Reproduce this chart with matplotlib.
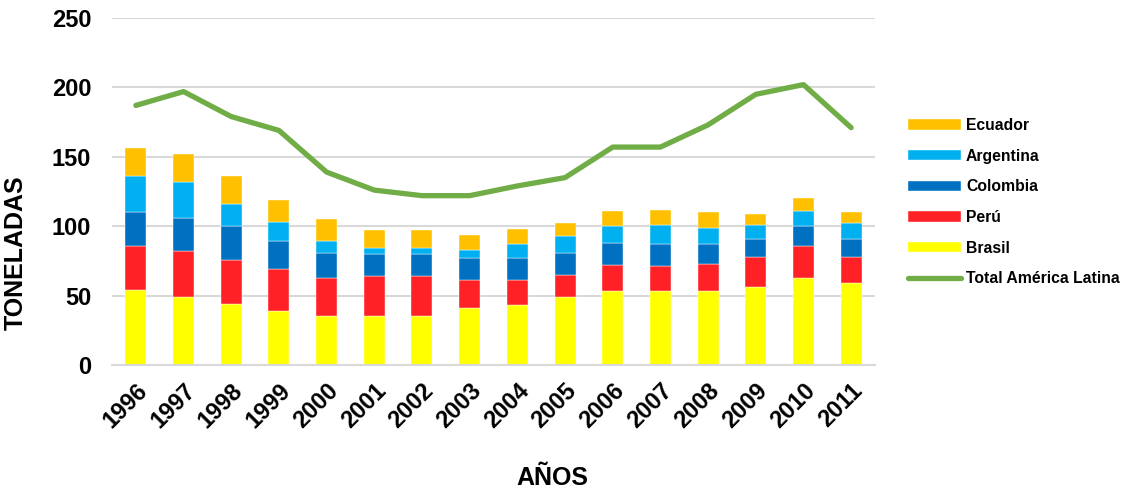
import matplotlib
matplotlib.use("Agg")
import matplotlib.pyplot as plt
import numpy as np

plt.rcParams['font.family'] = ['Liberation Sans', 'DejaVu Sans']
plt.rcParams['font.weight'] = 'bold'

years = ['1996', '1997', '1998', '1999', '2000', '2001', '2002', '2003',
         '2004', '2005', '2006', '2007', '2008', '2009', '2010', '2011']
brasil = [54, 49, 44, 39, 35, 35, 35, 41, 43, 49, 53, 53, 53, 56, 63, 59]
peru = [32, 33, 32, 30, 28, 29, 29, 20, 18, 16, 19, 18, 20, 22, 23, 19]
colombia = [24, 24, 24, 20, 18, 16, 16, 16, 16, 16, 16, 16, 14, 13, 14, 13]
argentina = [26, 26, 16, 14, 8, 4, 4, 6, 10, 12, 12, 14, 12, 10, 11, 11]
ecuador = [20, 20, 20, 16, 16, 13, 13, 11, 11, 9, 11, 11, 11, 8, 9, 8]
total = [187, 197, 179, 169, 139, 126, 122, 122, 129, 135, 157, 157, 173, 195, 202, 171]

series = [('Brasil', brasil, '#FFFF00'),
          ('Perú', peru, '#FF2125'),
          ('Colombia', colombia, '#0070C0'),
          ('Argentina', argentina, '#00B0F0'),
          ('Ecuador', ecuador, '#FFC000')]

fig = plt.figure(figsize=(11.27, 4.92), dpi=100)
ax = fig.add_axes([112 / 1127, 1 - 365 / 492, (875 - 112) / 1127, (365 - 18) / 492])

x = np.arange(len(years))
bottom = np.zeros(len(years))
handles = {}
for name, vals, color in series:
    b = ax.bar(x, vals, width=0.44, bottom=bottom, color=color,
               edgecolor='white', linewidth=0.3, label=name, zorder=2)
    handles[name] = b
    bottom += np.array(vals)

line, = ax.plot(x, total, color='#70AD47', linewidth=3.8, solid_capstyle='round',
                solid_joinstyle='round', label='Total América Latina', zorder=3)

ax.set_xlim(-0.5, len(years) - 0.5)
ax.set_ylim(0, 250)
ax.set_yticks(range(0, 251, 50))
ax.yaxis.grid(True, color='#D9D9D9', linewidth=1.5, zorder=0)
ax.set_axisbelow(True)
for s in ['top', 'right', 'left']:
    ax.spines[s].set_visible(False)
ax.spines['bottom'].set_color('#D9D9D9')
ax.spines['bottom'].set_linewidth(1.5)
ax.tick_params(axis='both', length=0, labelsize=17)
ax.tick_params(axis='y', pad=15)
ax.set_xticks(x)
ax.set_xticklabels(years, rotation=45, ha='right', va='top', rotation_mode='anchor')
ax.tick_params(axis='x', pad=10)
for lab in ax.get_xticklabels() + ax.get_yticklabels():
    lab.set_fontweight('bold')

fig.text(16 / 1127, 1 - 253 / 492, 'TONELADAS', rotation=90, ha='center', va='center',
         fontsize=18, fontweight='bold')
fig.text(552 / 1127, 1 - 478 / 492, 'AÑOS', ha='center', va='center',
         fontsize=18, fontweight='bold')

order = ['Ecuador', 'Argentina', 'Colombia', 'Perú', 'Brasil']
hs = [handles[n] for n in order] + [line]
labels = order + ['Total América Latina']
fig.legend(hs, labels, loc='upper left', bbox_to_anchor=(908 / 1127, 1 - 118 / 492),
           frameon=False, handlelength=3.4, handleheight=0.62,
           handletextpad=0.3, labelspacing=1.0, borderpad=0, borderaxespad=0,
           prop={'weight': 'bold', 'size': 11.3})

fig.savefig('out.png', dpi=100)
